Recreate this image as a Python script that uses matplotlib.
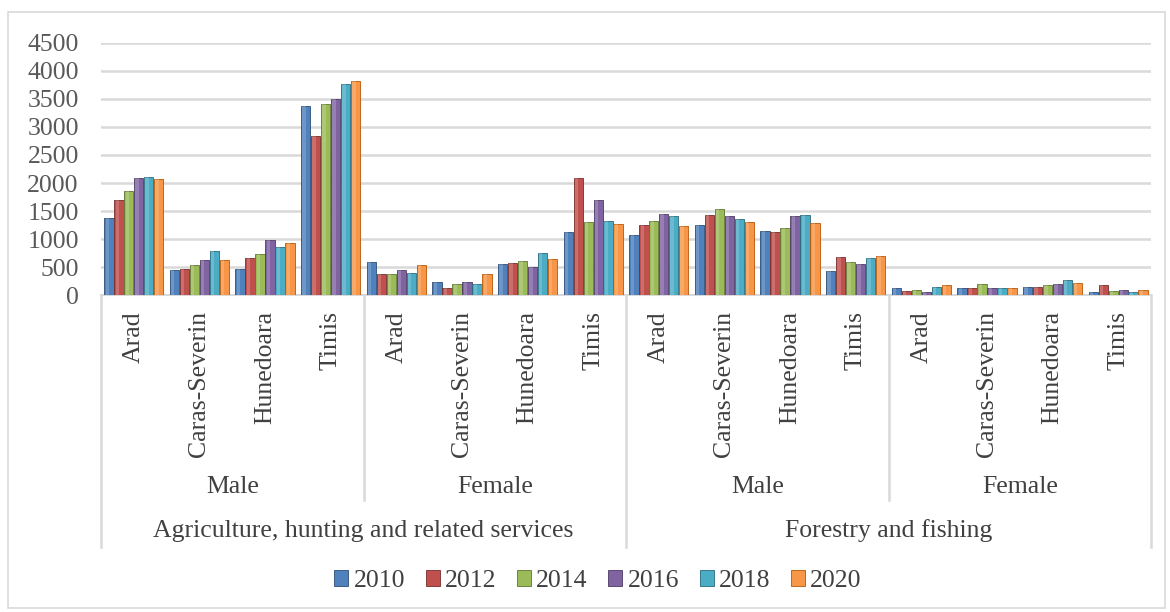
import numpy as np
import matplotlib
matplotlib.use("Agg")
from matplotlib import pyplot as plt
from matplotlib.patches import Rectangle
from matplotlib.lines import Line2D

# data
years = ['2010', '2012', '2014', '2016', '2018', '2020']
counties = ['Arad', 'Caras-Severin', 'Hunedoara', 'Timis']
sexes = ['Male', 'Female']
sectors = ['Agriculture, hunting and related services', 'Forestry and fishing']

agri_male = [[1372, 1692, 1853, 2084, 2102, 2067],
             [451, 469, 534, 630, 790, 630],
             [469, 665, 736, 986, 855, 932],
             [3379, 2833, 3415, 3492, 3759, 3824]]
agri_female = [[588, 380, 380, 451, 398, 540],
               [232, 131, 202, 232, 202, 380],
               [552, 570, 612, 499, 754, 647],
               [1128, 2090, 1312, 1698, 1324, 1271]]
forest_male = [[1069, 1247, 1318, 1443, 1407, 1229],
               [1247, 1425, 1532, 1407, 1354, 1306],
               [1140, 1122, 1194, 1407, 1425, 1283],
               [428, 677, 588, 552, 659, 695]]
forest_female = [[125, 71, 89, 53, 143, 178],
                 [125, 125, 196, 125, 125, 125],
                 [143, 143, 178, 196, 267, 214],
                 [53, 178, 71, 89, 53, 89]]

colors = ['#4f81bd', '#c0504d', '#9bbb59', '#8064a2', '#4bacc6', '#f79646']
edges = ['#2c4d75', '#772c2a', '#5f7530', '#4d3b62', '#276a7c', '#b65708']

values = np.array(agri_male + agri_female + forest_male + forest_female)  # 16 x 6

W, H = 1170, 612
plt.rcParams['font.family'] = ['Liberation Serif', 'DejaVu Serif']
fig = plt.figure(figsize=(W / 100, H / 100), dpi=100)
FS = 18.5

def fx(px):
    return px / W

def fy(py):
    return 1 - py / H

x_left, x_right = 101, 1151
y_top, y_zero = 42.7, 295.3
ax = fig.add_axes([fx(x_left), fy(y_zero), fx(x_right - x_left), (y_zero - y_top) / H])

n = values.shape[0]
x = np.arange(n)
pitch = 0.152
bw = 0.142
for j in range(len(years)):
    off = (j - 2.5) * pitch
    ax.bar(x + off, values[:, j], width=bw, color=colors[j], edgecolor=edges[j],
           linewidth=0.6, zorder=3)
    # lighter highlight strip to hint at the bevelled bars
    ax.bar(x + off - bw * 0.18, values[:, j], width=bw * 0.35, color='white',
           alpha=0.18, linewidth=0, zorder=4)

ax.set_xlim(-0.5, n - 0.5)
ax.set_ylim(0, 4500)
ax.set_yticks(np.arange(0, 4501, 500))
ax.yaxis.grid(True, color='#d9d9d9', linewidth=1.8, zorder=0)
ax.set_axisbelow(True)
for s in ['left', 'right', 'top']:
    ax.spines[s].set_visible(False)
ax.spines['bottom'].set_color('#d9d9d9')
ax.spines['bottom'].set_linewidth(1.5)
ax.set_xticks([])
ax.tick_params(axis='y', length=0, labelsize=FS, labelcolor='#595959', pad=16)

# multi-level category axis
grp = (x_right - x_left) / n
txt = dict(color='#404040', fontsize=FS)
for i in range(n):
    cx = x_left + (i + 0.5) * grp
    fig.text(fx(cx), fy(311), counties[i % 4], rotation=90, ha='center', va='top', **txt)
for k in range(4):
    cx = x_left + (k * 4 + 2) * grp
    fig.text(fx(cx), fy(487), sexes[k % 2], ha='center', va='center', **txt)
for k in range(2):
    cx = x_left + (k * 8 + 4) * grp
    fig.text(fx(cx), fy(531), sectors[k], ha='center', va='center', **txt)

line_kw = dict(color='#d9d9d9', linewidth=1.8)
for k in range(3):
    px = x_left + k * 8 * grp
    fig.add_artist(Line2D([fx(px), fx(px)], [fy(y_zero), fy(547)], **line_kw))
for k in [1, 3]:
    px = x_left + k * 4 * grp
    fig.add_artist(Line2D([fx(px), fx(px)], [fy(y_zero), fy(500)], **line_kw))

# legend
handles = [Rectangle((0, 0), 1, 1, facecolor=colors[j], edgecolor=edges[j], linewidth=0.6)
           for j in range(len(years))]
fig.legend(handles, years, loc='center', bbox_to_anchor=(fx(598), fy(581)), ncol=6,
           frameon=False, fontsize=FS, labelcolor='#404040', handlelength=0.55,
           handleheight=0.55, handletextpad=0.2, columnspacing=0.8)

# chart border
fig.add_artist(Rectangle((fx(8), fy(608)), fx(1157), (608 - 12) / H, fill=False,
                         edgecolor='#d9d9d9', linewidth=1.2))

fig.savefig('out.png', dpi=100)
